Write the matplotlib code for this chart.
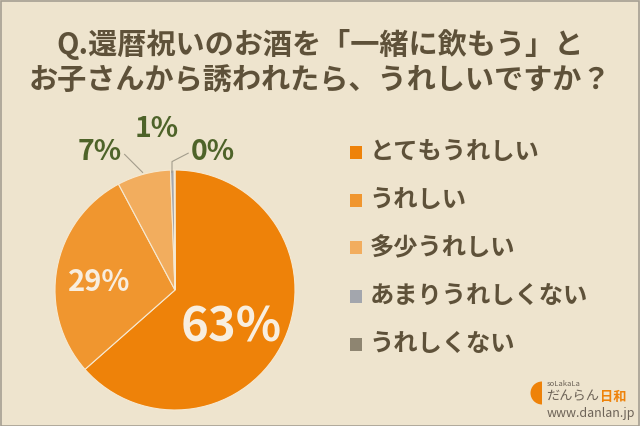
import matplotlib.pyplot as plt
from matplotlib.patches import Rectangle, Wedge
from matplotlib.transforms import IdentityTransform

plt.rcParams['font.family'] = ['Noto Sans CJK JP', 'DejaVu Sans']

# survey answers (share of respondents, %)
categories = ['とてもうれしい', 'うれしい', '多少うれしい', 'あまりうれしくない', 'うれしくない']
shares = [63.5, 28.7, 7.2, 0.5, 0.1]
pct_labels = ['63%', '29%', '7%', '1%', '0%']
colors = ['#EE8209', '#F0962F', '#F2AD5E', '#A3A6AD', '#8E8571']

bg = '#EEE4CE'
text_col = '#5E5139'
green = '#4E6329'

fig = plt.figure(figsize=(6.4, 4.26), dpi=100)
fig.patch.set_facecolor(bg)

fig.text(0.5, 1 - 45 / 426, 'Q.還暦祝いのお酒を「一緒に飲もう」と', ha='center', va='center',
         fontsize=21, fontweight='bold', color=text_col)
fig.text(0.5, 1 - 80 / 426, 'お子さんから誘われたら、うれしいですか？', ha='center', va='center',
         fontsize=21, fontweight='bold', color=text_col)

# pie: centre at (175, 290) px, radius 120 px
cx, cy, r = 175, 290, 120
ax = fig.add_axes([(cx - r) / 640, (426 - cy - r) / 426, 2 * r / 640, 2 * r / 426])
ax.pie(shares, colors=colors, startangle=90, counterclock=False, radius=1,
       wedgeprops=dict(edgecolor='#F6E9D2', linewidth=0.8))
ax.set_xlim(-1, 1)
ax.set_ylim(-1, 1)
ax.set_aspect('equal')
ax.axis('off')

# inside labels
ax.text(0.47, -0.31, pct_labels[0], ha='center', va='center', fontsize=34,
        fontweight='bold', color='#F8EEDF')
ax.text(-0.63, 0.07, pct_labels[1], ha='center', va='center', fontsize=21,
        fontweight='bold', color='#F8EEDF')

# outside labels with leader lines
ax.text(-0.625, 1.15, pct_labels[2], ha='center', va='center', fontsize=20.5,
        fontweight='bold', color=green, clip_on=False)
ax.text(-0.15, 1.34, pct_labels[3], ha='center', va='center', fontsize=20.5,
        fontweight='bold', color=green, clip_on=False)
ax.text(0.317, 1.15, pct_labels[4], ha='center', va='center', fontsize=20.5,
        fontweight='bold', color=green, clip_on=False)
ax.plot([-0.42, -0.27], [1.13, 0.98], color='#A39D8C', lw=0.8, clip_on=False)
ax.plot([-0.025, -0.025, 0.11], [0.98, 1.07, 1.14], color='#A39D8C', lw=0.8, clip_on=False)

# legend
for i, (cat, col) in enumerate(zip(categories, colors)):
    y = 1 - (152 + 48 * i) / 426
    fig.patches.append(Rectangle((350 / 640, y - 6.5 / 426), 12 / 640, 13 / 426,
                                 transform=fig.transFigure, facecolor=col, edgecolor='none'))
    fig.text(370 / 640, y, cat, ha='left', va='center', fontsize=17.5,
             fontweight='bold', color=text_col)

# logo
fig.patches.append(Wedge((542, 33), 11.5, 90, 270, transform=IdentityTransform(),
                         facecolor='#EE8209', edgecolor='none'))
fig.text(547 / 640, 1 - 384 / 426, 'soLakaLa', ha='left', va='center', fontsize=5.5, color='#6E6458')
fig.text(546 / 640, 1 - 397 / 426, 'だんらん', ha='left', va='center', fontsize=9.5, color='#6E6458')
fig.text(600 / 640, 1 - 397 / 426, '日和', ha='left', va='center', fontsize=9.5,
         fontweight='bold', color='#EE8209')
fig.text(547 / 640, 1 - 413 / 426, 'www.danlan.jp', ha='left', va='center', fontsize=9, color='#6E6458')

# frame
fig.patches.append(Rectangle((0.001, 0.001), 0.998, 0.997, transform=fig.transFigure,
                             fill=False, edgecolor='#A59F92', linewidth=1.2))

fig.savefig('out.png', dpi=100, facecolor=bg)
